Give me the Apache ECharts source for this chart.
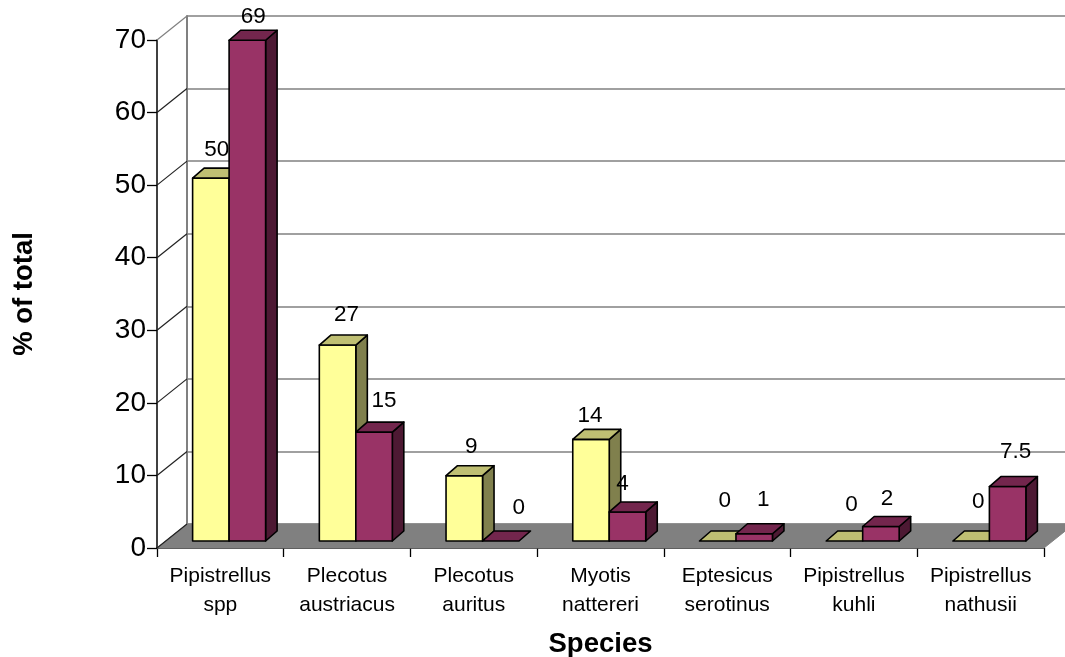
<!DOCTYPE html>
<html>
<head>
<meta charset="utf-8">
<style>html,body{margin:0;padding:0;background:#fff}#chart{width:1065px;height:657px}</style>
<script src="https://cdn.jsdelivr.net/npm/echarts@6/dist/echarts.min.js"></script>
</head>
<body>
<div id="chart"></div>
<script>
var categories = ['Pipistrellus spp', 'Plecotus austriacus', 'Plecotus auritus', 'Myotis nattereri', 'Eptesicus serotinus', 'Pipistrellus kuhli', 'Pipistrellus nathusii'];
var yellowValues = [50, 27, 9, 14, 0, 0, 0];
var purpleValues = [69, 15, 0, 4, 1, 2, 7.5];
var yTicks = [0, 10, 20, 30, 40, 50, 60, 70];

// label nudges by hand, the original has them moved around a bit
var yellowNudge = [[6, -28], [9, -30], [7, -29], [-1, -24], [7, -40], [7, -36], [7, -39]];
var purpleNudge = [[6, -23], [10, -31], [18, -33], [-5, -28], [9, -34], [6, -28], [8, -35]];

// 3d look
var wallDx = 30, wallDy = -24;
var planeDx = 8.75, planeDy = -7;
var depthDx = 11.5, depthDy = -10;
var barRatio = 0.288;
var font = 'Liberation Sans';

function poly(points, fill) {
    return {
        type: 'polygon',
        shape: { points: points },
        style: { fill: fill, stroke: '#000', lineWidth: 1.6, lineJoin: 'round' }
    };
}

function barSeries(name, values, nudge, side, front, topColor, sideColor) {
    return {
        name: name,
        type: 'custom',
        xAxisIndex: 0,
        yAxisIndex: 0,
        z: side < 0 ? 3 : 4,
        data: values.map(function (v, i) { return [i, v]; }),
        renderItem: function (params, api) {
            var i = api.value(0), v = api.value(1);
            var top = api.coord([i, v]), base = api.coord([i, 0]);
            var band = api.size([1, 0])[0];
            var w = band * barRatio;
            var cx = top[0] + planeDx;
            var x0 = side < 0 ? cx - w : cx;
            var x1 = x0 + w;
            var yT = top[1] + planeDy, yB = base[1] + planeDy;
            var dx = depthDx, dy = depthDy;
            var kids = [];
            if (v > 0) {
                kids.push(poly([[x1, yT], [x1 + dx, yT + dy], [x1 + dx, yB + dy], [x1, yB]], sideColor));
                kids.push(poly([[x0, yT], [x1, yT], [x1, yB], [x0, yB]], front));
            }
            kids.push(poly([[x0, yT], [x1, yT], [x1 + dx, yT + dy], [x0 + dx, yT + dy]], topColor));
            kids.push({
                type: 'text',
                style: {
                    text: String(v),
                    x: (x0 + x1) / 2 + nudge[i][0],
                    y: yT + nudge[i][1],
                    font: '22.5px "' + font + '"',
                    fill: '#000',
                    align: 'center',
                    verticalAlign: 'middle'
                }
            });
            return { type: 'group', children: kids };
        }
    };
}

var myChart = echarts.init(document.getElementById('chart')),
option = {
    backgroundColor: '#fff',
    animation: false,
    textStyle: { fontFamily: font },
    grid: [
        { left: 157, top: 40, width: 887, height: 508, outerBoundsMode: 'none' },
        { left: 187, top: 16, width: 887, height: 508, outerBoundsMode: 'none' }
    ],
    xAxis: [{
        type: 'category',
        gridIndex: 0,
        data: categories,
        name: 'Species',
        nameLocation: 'middle',
        nameGap: 82,
        nameTextStyle: { fontSize: 27.5, fontWeight: 'bold', color: '#000' },
        axisLine: { lineStyle: { color: '#000', width: 1.5 } },
        axisTick: { show: true, length: 9, alignWithLabel: false, lineStyle: { color: '#000', width: 1.3 } },
        axisLabel: {
            color: '#000',
            fontSize: 21,
            lineHeight: 28.5,
            margin: 14,
            interval: 0,
            formatter: function (s) { return s.replace(' ', '\n'); }
        },
        splitLine: { show: false }
    }, {
        type: 'category',
        gridIndex: 1,
        data: categories,
        axisLine: { show: false },
        axisTick: { show: false },
        axisLabel: { show: false },
        splitLine: { show: false }
    }],
    yAxis: [{
        type: 'value',
        gridIndex: 0,
        min: 0,
        max: 70,
        interval: 10,
        name: '% of total',
        nameLocation: 'middle',
        nameGap: 119,
        nameTextStyle: { fontSize: 27.5, fontWeight: 'bold', color: '#000' },
        axisLine: { show: true, lineStyle: { color: '#000', width: 1.5 } },
        axisTick: { show: true, length: 10, lineStyle: { color: '#000', width: 1.3 } },
        axisLabel: { color: '#000', fontSize: 28, margin: 11 },
        splitLine: { show: false }
    }, {
        type: 'value',
        gridIndex: 1,
        min: 0,
        max: 70,
        interval: 10,
        axisLine: { show: true, lineStyle: { color: '#808080', width: 2 } },
        axisTick: { show: false },
        axisLabel: { show: false },
        splitLine: { show: true, lineStyle: { color: '#808080', width: 1.5 } }
    }],
    series: [
        {
            // side wall lines and the floor
            name: 'walls',
            type: 'custom',
            xAxisIndex: 0,
            yAxisIndex: 0,
            z: 2,
            silent: true,
            data: yTicks.map(function (t) { return [0, t]; }),
            renderItem: function (params, api) {
                var p = api.coord([0, api.value(1)]);
                var band = api.size([1, 0])[0];
                var x0 = p[0] - band / 2, y0 = p[1];
                var kids = [];
                if (api.value(1) === 0) {
                    var x1 = x0 + band * categories.length;
                    kids.push({
                        type: 'polygon',
                        shape: { points: [[x0, y0], [x1, y0], [x1 + wallDx, y0 + wallDy], [x0 + wallDx, y0 + wallDy]] },
                        style: { fill: '#808080', stroke: '#808080', lineWidth: 1 }
                    });
                }
                kids.push({
                    type: 'line',
                    shape: { x1: x0, y1: y0, x2: x0 + wallDx, y2: y0 + wallDy },
                    style: { stroke: api.value(1) === 70 ? '#808080' : '#222', lineWidth: 1.2 }
                });
                return { type: 'group', children: kids };
            }
        },
        barSeries('yellow', yellowValues, yellowNudge, -1, '#FFFF99', '#BFBF73', '#80804D'),
        barSeries('purple', purpleValues, purpleNudge, 1, '#993366', '#73264D', '#4D1933')
    ]
};

myChart.setOption(option);
</script>
</body>
</html>
